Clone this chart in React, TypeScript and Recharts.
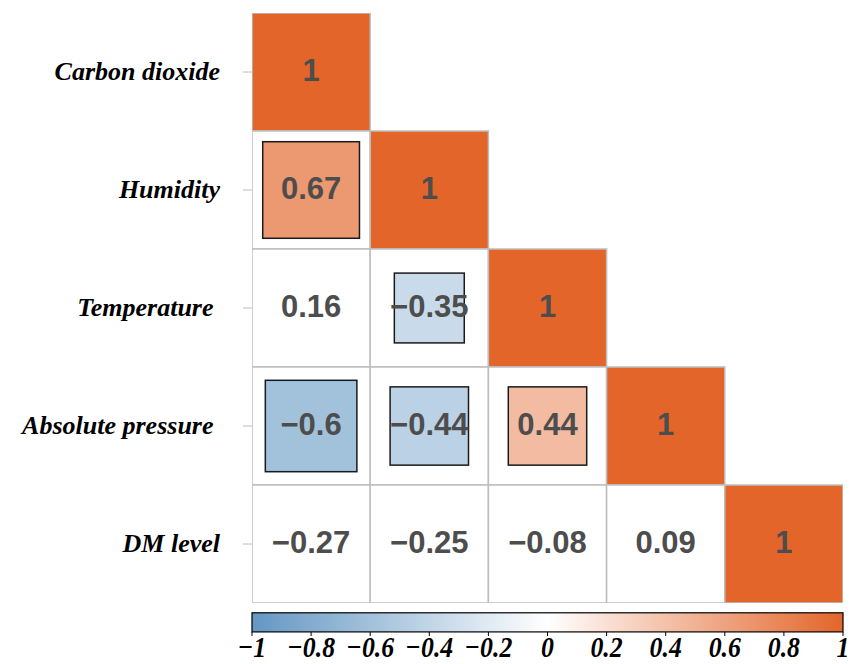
import React from 'react';
import { ScatterChart, Scatter, XAxis, YAxis, ReferenceArea } from 'recharts';

// ---------- data ----------
const variables = ['Carbon dioxide', 'Humidity', 'Temperature ', 'Absolute pressure ', 'DM level'];
const corrRows = [
  [1],
  [0.67, 1],
  [0.16, -0.35, 1],
  [-0.6, -0.44, 0.44, 1],
  [-0.27, -0.25, -0.08, 0.09, 1],
];
const sigRows = [
  [true],
  [true, true],
  [false, true, true],
  [true, true, true, true],
  [false, false, false, false, true],
];
const colorbarTicks = [-1, -0.8, -0.6, -0.4, -0.2, 0, 0.2, 0.4, 0.6, 0.8, 1];
const rowTicks = [0.5, 1.5, 2.5, 3.5, 4.5];

// ---------- layout ----------
const W = 851;
const H = 664;
const MARGIN = { top: 13, right: 8, bottom: 0, left: 0 };
const Y_AXIS_W = 252;
const X_AXIS_H = 61;
const CELL_W = (W - MARGIN.left - MARGIN.right - Y_AXIS_W) / 5;
const CELL_H = (H - MARGIN.top - MARGIN.bottom - X_AXIS_H) / 5;

const BLUE = [100, 151, 195];
const WHITE = [255, 255, 255];
const ORANGE = [227, 101, 42];
const GRID = '#BEBEBE';

function corrColor(r: number): string {
  const end = r < 0 ? BLUE : ORANGE;
  const t = Math.abs(r);
  const c = WHITE.map((w, i) => Math.round(w + (end[i] - w) * t));
  return `rgb(${c[0]},${c[1]},${c[2]})`;
}

function fmt(v: number): string {
  return v < 0 ? '\u2212' + String(Math.abs(v)) : String(v);
}

const cells = corrRows.flatMap((row, i) =>
  row.map((r, j) => ({ x: j + 0.5, y: i + 0.5, r, sig: sigRows[i][j] }))
);
const cbPoints = colorbarTicks.map((v) => ({ v, y: 5 }));

const CellShape = (props: any) => {
  const { cx, cy, payload } = props;
  if (cx == null || cy == null) return null;
  const { r, sig } = payload;
  const s = sig ? Math.sqrt(Math.abs(r)) : 0;
  const full = s >= 0.999;
  const color = corrColor(r);
  return (
    <g>
      <rect
        x={cx - CELL_W / 2}
        y={cy - CELL_H / 2}
        width={CELL_W}
        height={CELL_H}
        fill={full ? color : '#FFFFFF'}
        stroke={GRID}
        strokeWidth={1.5}
      />
      {sig && !full && (
        <rect
          x={cx - (s * CELL_W) / 2}
          y={cy - (s * CELL_H) / 2}
          width={s * CELL_W}
          height={s * CELL_H}
          fill={color}
          stroke="#1A1A1A"
          strokeWidth={1.5}
        />
      )}
      <text
        x={cx}
        y={cy + 9}
        textAnchor="middle"
        fontFamily="'Liberation Sans', Arial, sans-serif"
        fontWeight="bold"
        fontSize={31}
        fill="#4D4D4D"
      >
        {fmt(r)}
      </text>
    </g>
  );
};

const EmptyShape = () => <g />;

const RowTick = (props: any) => {
  const { x, y, payload } = props;
  const idx = Math.floor(payload.value);
  return (
    <text
      x={x - 21}
      y={y + 8}
      textAnchor="end"
      fontFamily="'Liberation Serif', 'Times New Roman', serif"
      fontWeight="bold"
      fontStyle="italic"
      fontSize={26}
      fill="#000"
      style={{ whiteSpace: 'pre' }}
    >
      {variables[idx]}
    </text>
  );
};

const ColorbarTick = (props: any) => {
  const { x, y, payload } = props;
  return (
    <g>
      <line x1={x} x2={x} y1={y + 29} y2={y + 33} stroke="#000" strokeWidth={1} />
      <text
        transform={`translate(${x},${y + 54}) scale(0.86,1)`}
        textAnchor="middle"
        fontFamily="'Liberation Serif', 'Times New Roman', serif"
        fontWeight="bold"
        fontStyle="italic"
        fontSize={30}
        fill="#000"
      >
        {fmt(payload.value)}
      </text>
    </g>
  );
};

const ColorbarShape = (props: any) => {
  const { x, y, width, height } = props;
  const rgb = (c: number[]) => `rgb(${c[0]},${c[1]},${c[2]})`;
  return (
    <g>
      <defs>
        <linearGradient id="cbGrad" x1="0" y1="0" x2="1" y2="0">
          <stop offset="0%" stopColor={rgb(BLUE)} />
          <stop offset="50%" stopColor="#FFFFFF" />
          <stop offset="100%" stopColor={rgb(ORANGE)} />
        </linearGradient>
      </defs>
      <rect x={x} y={y} width={width} height={height} fill="url(#cbGrad)" stroke="#000" strokeWidth={1.2} />
    </g>
  );
};

export default function App() {
  return (
    <div style={{ position: 'absolute', left: 0, top: 0, background: '#fff' }}>
      <ScatterChart width={W} height={H} margin={MARGIN}>
        <XAxis xAxisId="cell" dataKey="x" type="number" domain={[0, 5]} hide allowDataOverflow />
        <XAxis
          xAxisId="cb"
          dataKey="v"
          type="number"
          domain={[-1, 1]}
          ticks={colorbarTicks}
          interval={0}
          height={X_AXIS_H}
          axisLine={false}
          tickLine={false}
          tickSize={0}
          tickMargin={0}
          tick={<ColorbarTick />}
          allowDataOverflow
        />
        <YAxis
          yAxisId="row"
          dataKey="y"
          type="number"
          domain={[0, 5]}
          reversed
          ticks={rowTicks}
          interval={0}
          width={Y_AXIS_W}
          axisLine={false}
          tickLine={{ stroke: GRID, strokeWidth: 1 }}
          tickSize={9}
          tickMargin={2}
          tick={<RowTick />}
          allowDataOverflow
        />
        <ReferenceArea
          xAxisId="cb"
          yAxisId="row"
          x1={-1}
          x2={1}
          y1={5.083}
          y2={5.245}
          ifOverflow="visible"
          shape={<ColorbarShape />}
        />
        <Scatter
          xAxisId="cb"
          yAxisId="row"
          data={cbPoints}
          shape={<EmptyShape />}
          isAnimationActive={false}
        />
        <Scatter
          xAxisId="cell"
          yAxisId="row"
          data={cells}
          shape={<CellShape />}
          isAnimationActive={false}
        />
      </ScatterChart>
    </div>
  );
}
